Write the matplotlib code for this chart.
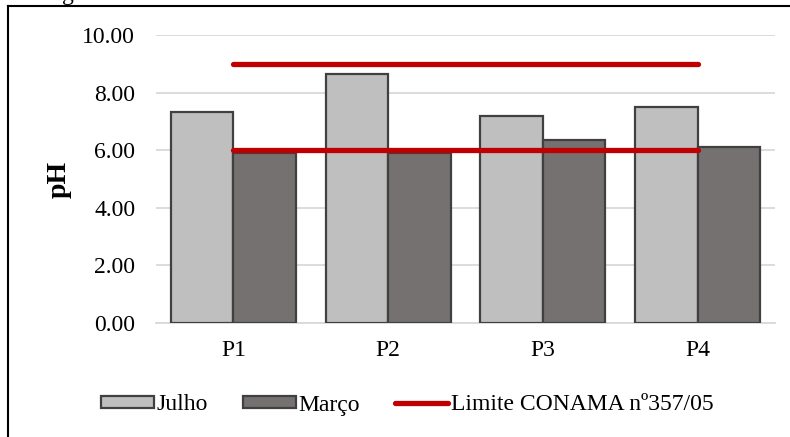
import numpy as np
import matplotlib.pyplot as plt
from matplotlib.lines import Line2D

# dados de pH por ponto
pontos = ['P1', 'P2', 'P3', 'P4']
julho = [7.34, 8.65, 7.20, 7.51]
marco = [5.89, 5.90, 6.35, 6.12]
limites = [6.0, 9.0]  # Limite CONAMA nº357/05
y_ticks = [0, 2, 4, 6, 8, 10]

plt.rcParams['font.family'] = ['Liberation Serif', 'DejaVu Serif']
plt.rcParams['font.size'] = 17

fig = plt.figure(figsize=(7.9, 4.37), dpi=100)
ax = fig.add_axes([156 / 790, 1 - 323 / 437, 619 / 790, 288 / 437])

x = np.arange(len(pontos))
w = 0.404
b1 = ax.bar(x - w / 2, julho, w, color='#bfbfbf', edgecolor='#404040', lw=1.6,
            label='Julho', zorder=3)
b2 = ax.bar(x + w / 2, marco, w, color='#767171', edgecolor='#404040', lw=1.6,
            label='Março', zorder=3)

linhas = []
for lim in limites:
    l, = ax.plot([x[0], x[-1]], [lim, lim], color='#c00000', lw=3.8,
                 solid_capstyle='round', zorder=4)
    linhas.append(l)

ax.set_xlim(-0.5, len(pontos) - 0.5)
ax.set_ylim(0, 10)
ax.set_yticks(y_ticks)
ax.set_yticklabels([f'{v:.2f}' for v in y_ticks])
ax.set_xticks(x)
ax.set_xticklabels(pontos)
ax.tick_params(axis='both', length=0)
ax.tick_params(axis='y', pad=15)
ax.tick_params(axis='x', pad=12)
ax.grid(axis='y', color='#d9d9d9', lw=1.3, zorder=0)
for s in ['top', 'right', 'left']:
    ax.spines[s].set_visible(False)
ax.spines['bottom'].set_color('#d9d9d9')
ax.spines['bottom'].set_linewidth(1.3)
ax.set_ylabel('pH', fontweight='bold', fontsize=20, labelpad=8)

fig.legend([b1, b2, linhas[0]], ['Julho', 'Março', 'Limite CONAMA nº357/05'],
           loc='center', bbox_to_anchor=(407 / 790, 1 - 405 / 437), ncol=3,
           frameon=False, handlelength=2.25, handleheight=0.4,
           handletextpad=0.1, columnspacing=1.5, borderaxespad=0)

# moldura recortada e fragmento do texto de cima
fig.add_artist(Line2D([8 / 790, 8 / 790], [0, 1 - 6 / 437], color='black',
                      lw=1.5, transform=fig.transFigure))
fig.add_artist(Line2D([8 / 790, 1], [1 - 6 / 437, 1 - 6 / 437], color='black',
                      lw=1.5, transform=fig.transFigure))
fig.text(62 / 790, 1.0, 'g', va='baseline', ha='left')

fig.savefig('out.png', dpi=100)
